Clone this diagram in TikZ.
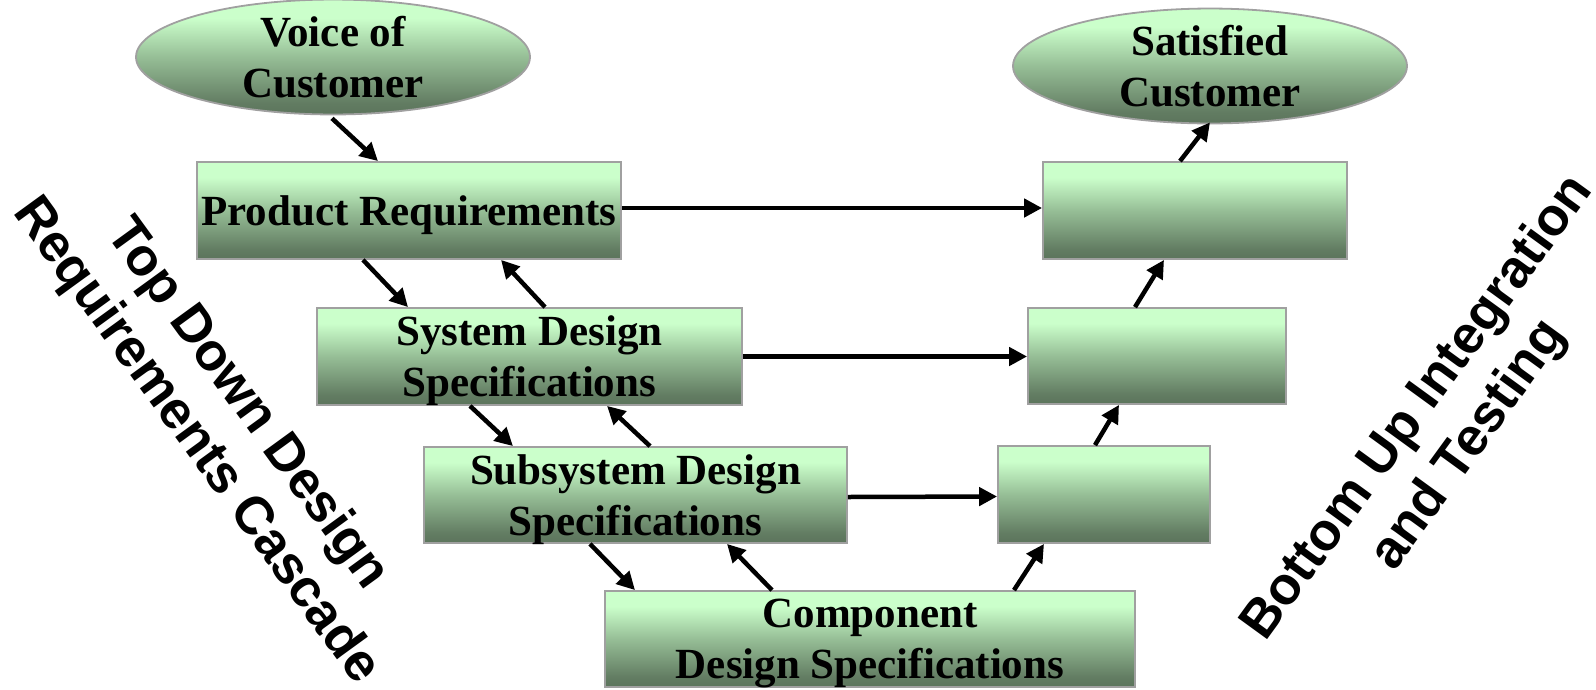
\documentclass[tikz,border=0pt]{standalone}
\usepackage{fontspec}
\setmainfont{Liberation Serif}
\newfontfamily\sidefont{Liberation Sans}
\usetikzlibrary{arrows.meta,shapes.geometric}

\definecolor{glight}{RGB}{203,255,203}
\definecolor{gmid}{RGB}{150,190,150}
\definecolor{gdeep}{RGB}{98,124,98}
\definecolor{gdark}{RGB}{92,116,92}
\definecolor{edgegray}{RGB}{160,160,160}
% light green on top fading into a dark grey-green at the bottom
\pgfdeclareverticalshading{greenfade}{100bp}{color(0bp)=(gdark); color(25bp)=(gdark); color(30bp)=(gdeep); color(50bp)=(gmid); color(67bp)=(glight); color(100bp)=(glight)}

\begin{document}
\begin{tikzpicture}[x=1pt,y=-1pt,
  stage/.style={rectangle, draw=edgegray, line width=1.8pt, shading=greenfade,
    inner sep=0pt, align=center, text depth=0pt,
    font=\fontsize{43}{51}\selectfont\bfseries},
  goal/.style={stage, ellipse},
  flow/.style={line width=4.5pt, -{Triangle[length=18pt,width=18pt]}},
  side/.style={align=center, font=\fontsize{53}{63}\selectfont\sidefont\bfseries}
]
\useasboundingbox (0,0) rectangle (1596,689);

% end points
\node[goal, minimum width=394pt, minimum height=106pt] (voice) at (333,57) {Voice of\\Customer};
\node[goal, minimum width=394pt, minimum height=102pt] (sat) at (1210,66) {Satisfied\\Customer};

% left leg: design cascade
\node[stage, minimum width=424pt, minimum height=97pt] (prod) at (409,210.5) {Product Requirements};
\node[stage, minimum width=425pt, minimum height=97pt] (sys) at (529.5,356.5) {System Design\\Specifications};
\node[stage, minimum width=423pt, minimum height=96pt] (sub) at (635.5,495) {Subsystem Design\\Specifications};
\node[stage, minimum width=530pt, minimum height=96pt] (comp) at (870,639) {Component\\Design Specifications};

% right leg: integration and testing
\node[stage, minimum width=304pt, minimum height=97pt] (r1) at (1195,210.5) {};
\node[stage, minimum width=258pt, minimum height=96pt] (r2) at (1157,356) {};
\node[stage, minimum width=212pt, minimum height=97pt] (r3) at (1104,494.5) {};

% top-down cascade
\draw[flow] ([xshift=-1pt,yshift=-3pt]voice.south) -- ([xshift=-31pt]prod.north);
\draw[flow] ([xshift=-46pt]prod.south) -- ([xshift=-121.5pt]sys.north);
\draw[flow] ([xshift=15.5pt]sys.north) -- ([xshift=92pt]prod.south);
\draw[flow] ([xshift=-59.5pt]sys.south) -- ([xshift=-122.5pt]sub.north);
\draw[flow] ([xshift=14.5pt]sub.north) -- ([xshift=77.5pt]sys.south);
\draw[flow] ([xshift=-45.5pt]sub.south) -- ([xshift=-235pt]comp.north);
\draw[flow] ([xshift=-98pt]comp.north) -- ([xshift=91.5pt]sub.south);

% links across
\draw[flow] ([yshift=2.5pt]prod.east) -- ([yshift=2.5pt]r1.west);
\draw[flow] (sys.east) -- (sys.east -| r2.west);
\draw[flow] ([yshift=-2pt]sub.east) -- ([yshift=-2pt]r3.west);

% bottom-up integration
\draw[flow] ([xshift=144pt]comp.north) -- ([xshift=-60pt]r3.south);
\draw[flow] ([xshift=-9pt]r3.north) -- ([xshift=-38pt]r2.south);
\draw[flow] ([xshift=-22pt]r2.north) -- ([xshift=-31pt]r1.south);
\draw[flow] ([xshift=-15pt]r1.north) -- ([yshift=2pt]sat.south);

% side captions
\node[side, rotate=-54] (down) at (221,423) {Top Down Design\\Requirements Cascade};
\node[side, rotate=54] (up) at (1444,427) {Bottom Up Integration\\and Testing};
\end{tikzpicture}
\end{document}
